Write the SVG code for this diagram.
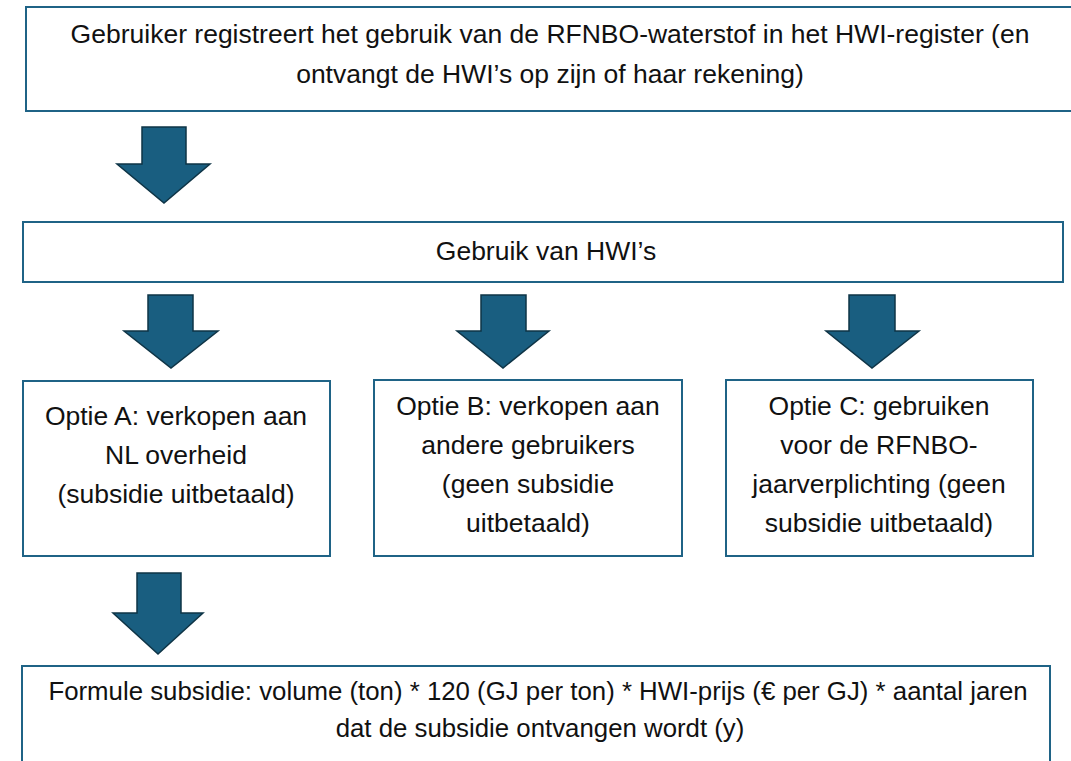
<svg xmlns="http://www.w3.org/2000/svg" width="1071" height="761" viewBox="0 0 1071 761">
<style>
.box{fill:#ffffff;stroke:#1f6386;stroke-width:2}
.arr{fill:#195e80;stroke:#0e3446;stroke-width:1.5;stroke-linejoin:miter}
text{font-family:"Liberation Sans",Arial,sans-serif;font-size:26.5px;fill:#111111;text-anchor:middle}
text.f{font-size:25.8px}
</style>
<rect width="1071" height="761" fill="#ffffff"/>
<g id="connectors">
<polygon class="arr" points="142,127 186,127 186,164 210,164 164,203 117,164 142,164"/>
<polygon class="arr" points="148,295 193,295 193,331 218,331 171,368 124,331 148,331"/>
<polygon class="arr" points="481,295 526,295 526,331 549,331 503,368 457,331 481,331"/>
<polygon class="arr" points="849,295 895,295 895,331 919,331 872,368 826,331 849,331"/>
<polygon class="arr" points="137,573 181,573 181,613 203,613 158,654 113,613 137,613"/>
</g>
<g id="n1">
<rect class="box" x="26" y="7" width="1060" height="104"/>
<text x="550" y="43">Gebruiker registreert het gebruik van de RFNBO-waterstof in het HWI-register (en</text>
<text x="550" y="83">ontvangt de HWI’s op zijn of haar rekening)</text>
</g>
<g id="n2">
<rect class="box" x="23" y="222" width="1040" height="60"/>
<text x="546" y="260">Gebruik van HWI’s</text>
</g>
<g id="nA">
<rect class="box" x="23" y="381" width="307" height="175"/>
<text x="176" y="425">Optie A: verkopen aan</text>
<text x="176" y="464">NL overheid</text>
<text x="176" y="503">(subsidie uitbetaald)</text>
</g>
<g id="nB">
<rect class="box" x="374" y="380" width="308" height="176"/>
<text x="528" y="415">Optie B: verkopen aan</text>
<text x="528" y="454">andere gebruikers</text>
<text x="528" y="493">(geen subsidie</text>
<text x="528" y="532">uitbetaald)</text>
</g>
<g id="nC">
<rect class="box" x="726" y="380" width="307" height="176"/>
<text x="879" y="415">Optie C: gebruiken</text>
<text x="879" y="454">voor de RFNBO-</text>
<text x="879" y="493">jaarverplichting (geen</text>
<text x="879" y="532">subsidie uitbetaald)</text>
</g>
<g id="n3">
<rect class="box" x="22" y="666" width="1028" height="120"/>
<text class="f" x="538" y="700">Formule subsidie: volume (ton) * 120 (GJ per ton) * HWI-prijs (€ per GJ) * aantal jaren</text>
<text class="f" x="540" y="737">dat de subsidie ontvangen wordt (y)</text>
</g>
</svg>
